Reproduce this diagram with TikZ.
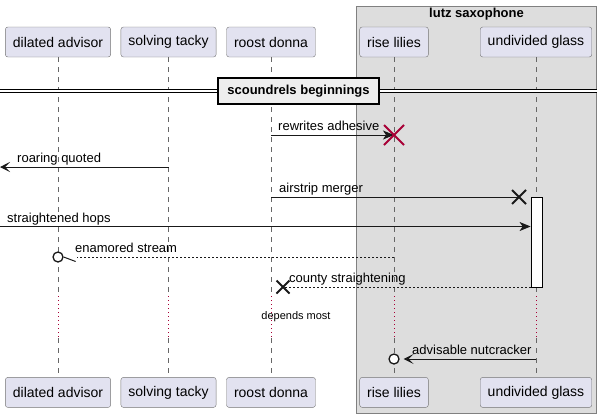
\documentclass[tikz,border=0pt]{standalone}
\usepackage{fontspec}
\setmainfont{Liberation Sans}
\usepackage{xcolor}
\usepackage{tikz}
\usetikzlibrary{positioning}
\usetikzlibrary{arrows.meta,shapes.misc}
\definecolor{partfill}{HTML}{E2E2F0}
\definecolor{grpfill}{HTML}{DDDDDD}
\definecolor{divfill}{HTML}{EEEEEE}
\definecolor{destred}{HTML}{A80036}

\begin{document}
\begin{tikzpicture}[x=1pt, y=-1pt, node distance={320pt},
        part/.style = {draw=black!55, fill=partfill, rounded corners=2.5pt, minimum height=30pt, inner xsep=7.5pt, font=\fontsize{14}{16}\selectfont},
        life/.style = {draw=black!60, dash pattern=on 5pt off 5pt, line width=0.6pt},
        delay/.style = {draw=destred, dash pattern=on 1pt off 3pt, line width=0.8pt},
        msg/.style = {draw=black!90, line width=1pt},
        reply/.style = {msg, dash pattern=on 2pt off 2pt},
        full/.style = {-{Stealth[length=11pt, width=9pt, inset=3pt]}},
        barb/.style = {-{Stealth[length=10pt, width=10pt, inset=5pt]}},
        lbl/.style = {anchor=base west, inner sep=0pt, font=\fontsize{13}{15}\selectfont},
        kill/.style = {cross out, draw, line width=2pt, inner sep=0pt, minimum size=#1},
        ring/.style = {circle, draw=black!90, fill=white, line width=1.3pt, inner sep=0pt, minimum size=10pt}]
        \useasboundingbox (0,0) rectangle (603,418);
        % Group
        \filldraw[fill=grpfill, draw=black!50, line width=0.8pt] (356.5,6) rectangle (596.5,413);
        \node[font=\bfseries\fontsize{13}{15}\selectfont] (grp) at (476.5,14.5) {lutz saxophone};
        % Nodes
        \node[part] (da) at (58,42) {dilated advisor};
        \node[part] (st) at (168.5,42) {solving tacky};
        \node[part] (rd) at (271,42) {roost donna};
        \node[part] (rl) at (394,42) {rise lilies};
        \node[part] (ug) at (536,42) {undivided glass};
        \node[part] (da2) [below=of da] {dilated advisor};
        \node[part] (st2) [below=of st] {solving tacky};
        \node[part] (rd2) [below=of rd] {roost donna};
        \node[part] (rl2) [below=of rl] {rise lilies};
        \node[part] (ug2) [below=of ug] {undivided glass};
        % Levels
        \coordinate (d1) at (0,296);
        \coordinate (d2) at (0,338);
        \coordinate (m1) at (0,135);
        \coordinate (m2) at (0,167);
        \coordinate (m3) at (0,197);
        \coordinate (m4) at (0,226.5);
        \coordinate (m5) at (0,257);
        \coordinate (m6) at (0,287);
        \coordinate (m7) at (0,359);
        % Lifelines
        \foreach \p/\q in {da/da2, st/st2, rd/rd2, rl/rl2, ug/ug2} {
            \draw[life] (\p.south) -- (\p |- d1);
            \draw[delay] (\p |- d1) -- (\p |- d2);
            \draw[life] (\p |- d2) -- (\q.north);
        }
        \node[font=\fontsize{11}{13}\selectfont] (dly) at (296,317) {depends most};
        % Divider
        \coordinate (dl) at (0,91);
        \coordinate (dr) at (596.5,91);
        \draw[double, double distance=2pt, line width=1pt] (dl) -- (dr);
        \node[draw, line width=1.5pt, fill=divfill, minimum width=161pt, minimum height=26pt, font=\bfseries\fontsize{13}{15}\selectfont] (div) at (298.5,91) {scoundrels beginnings};
        % Activation
        \node[draw, fill=white, line width=0.8pt, minimum width=11pt, minimum height=90pt, inner sep=0pt, anchor=north] (act) at (536.5,197) {};
        % Edges
        \draw[msg, full] (rd |- m1) -- (rl |- m1);
        \node[kill=18pt, draw=destred] (x1) at (rl |- m1) {};
        \node[lbl] at (278,130.5) {rewrites adhesive};
        \draw[msg, barb] (st |- m2) -- (m2);
        \node[lbl] at (17,162.5) {roaring quoted};
        \node[kill=12pt, draw=black!90] (x3) at (519,197) {};
        \draw[msg] (rd |- m3) -- (x3.center);
        \node[lbl] at (279,192.5) {airstrip merger};
        \draw[msg, full] (m4) -- (act.west |- m4);
        \node[lbl] at (7,222) {straightened hops};
        \node[ring] (c5) at (da |- m5) {};
        \draw[reply, shorten >=13pt] (rl |- m5) -- (c5.east);
        \draw[msg] (c5.east) -- ++(12,4.5);
        \node[lbl] at (75,252.5) {enamored stream};
        \node[kill=11pt, draw=black!90] (x6) at (283,287) {};
        \draw[reply] (act.west |- m6) -- (x6.center);
        \node[lbl] at (289,282.5) {county straightening};
        \node[ring] (c7) at (rl |- m7) {};
        \draw[msg, barb, shorten >=4pt] (ug |- m7) -- (c7.east);
        \node[lbl] at (412,354.5) {advisable nutcracker};
    \end{tikzpicture}
\end{document}
